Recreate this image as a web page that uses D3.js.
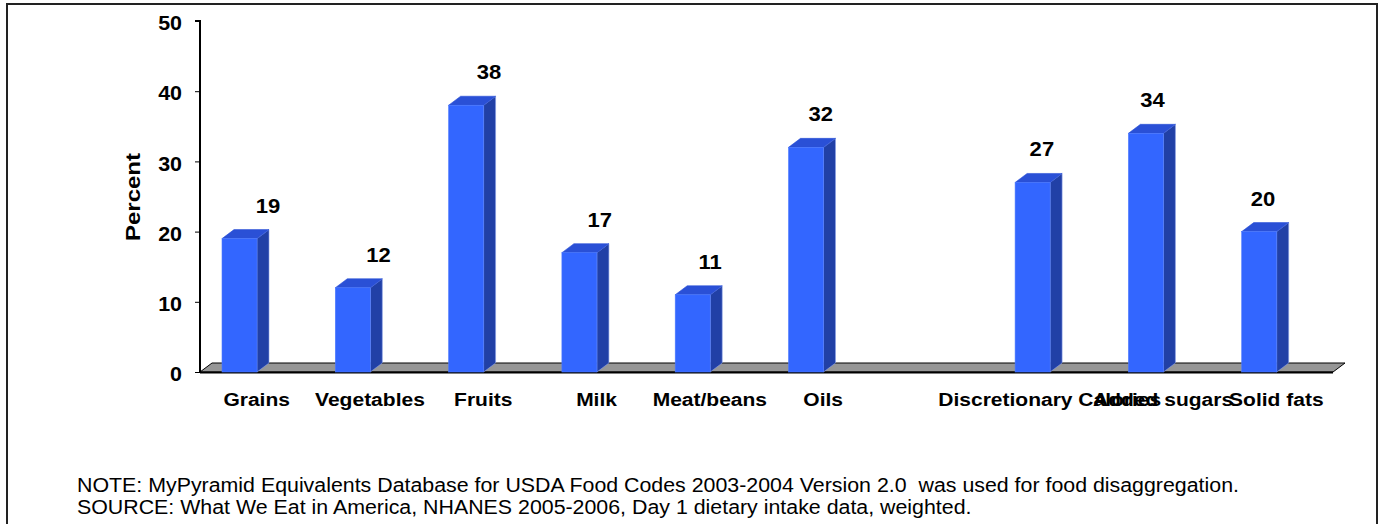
<!DOCTYPE html>
<html><head><meta charset="utf-8">
<script src="https://cdn.jsdelivr.net/npm/d3@7"></script>
<style>
html,body{margin:0;padding:0;background:#fff;}
svg{display:block;font-family:Arial,"Liberation Sans",sans-serif;}
</style></head>
<body><svg id="c" width="1382" height="524"></svg>
<script>
const categories = ["Grains","Vegetables","Fruits","Milk","Meat/beans","Oils","","Discretionary Calories","Added sugars","Solid fats"];
const values = [19,12,38,17,11,32,null,27,34,20];
const yTicks = [0,10,20,30,40,50];
const notes = [
  "NOTE: MyPyramid Equivalents Database for USDA Food Codes 2003-2004 Version 2.0  was used for food disaggregation.",
  "SOURCE: What We Eat in America, NHANES 2005-2006, Day 1 dietary intake data, weighted."
];

const FONT = "Arial,'Liberation Sans',sans-serif";
const svg = d3.select("#c");
const x0 = 200, x1 = 1333, yBase = 372, yTop = 21;
const dx = 12, dy = -9;

function stretch(sel, k){
  sel.each(function(){
    const w = this.getComputedTextLength();
    if (w > 0) d3.select(this).attr("textLength", w*k).attr("lengthAdjust","spacingAndGlyphs");
  });
}

// outer frame
svg.append("rect").attr("x",7).attr("y",4).attr("width",1370).attr("height",530)
  .attr("fill","none").attr("stroke","#222").attr("stroke-width",2);

const y = d3.scaleLinear().domain([0,50]).range([yBase, yTop]);
const keys = categories.map((c,i)=>i);
const xSlot = d3.scaleBand().domain(keys).range([x0,x1]).padding(0);
const xBar = d3.scaleBand().domain(keys).range([x0,x1]).paddingInner(0.691).paddingOuter(0.3455).align(0.281);
const xLab = d3.scaleLinear().domain([0,9]).range([268,1263]);

// floor
svg.append("path")
  .attr("d", d3.line()([[x0,yBase],[x0+dx,yBase+dy],[x1+dx,yBase+dy],[x1,yBase]]) + "Z")
  .attr("fill","#969696").attr("stroke","#000").attr("stroke-width",1);
svg.append("line").attr("x1",x0).attr("x2",x1).attr("y1",yBase+0.5).attr("y2",yBase+0.5)
  .attr("stroke","#000").attr("stroke-width",2);

// y axis
const yAxis = d3.axisLeft(y).tickValues(yTicks).tickSize(5).tickPadding(13);
const gy = svg.append("g").attr("transform",`translate(${x0},0)`).call(yAxis);
gy.select(".domain").attr("stroke","#000").attr("stroke-width",2).attr("d",`M-5,${yTop}H0V${yBase}`);
gy.selectAll(".tick line").attr("stroke","#000").attr("stroke-width",1);
gy.selectAll(".tick text").attr("font-size",19.5).attr("font-weight","bold").attr("fill","#000")
  .attr("font-family",FONT).attr("dy","0.45em").call(stretch,1.1);

// y title
svg.append("text").attr("transform",`translate(140,197) rotate(-90)`)
  .attr("text-anchor","middle").attr("font-size",20.5).attr("font-weight","bold").text("Percent")
  .call(stretch,1.17);

// bars
const data = keys.filter(i=>values[i]!=null);
const bw = xBar.bandwidth();
const g = svg.append("g");
data.forEach(i=>{
  const bx = xBar(i), top = y(values[i]);
  g.append("path").attr("d", d3.line()([[bx+bw,top],[bx+bw+dx,top+dy],[bx+bw+dx,yBase+dy],[bx+bw,yBase]])+"Z")
    .attr("fill","#2140a6").attr("stroke","#8aa0e8").attr("stroke-width",0.6);
  g.append("path").attr("d", d3.line()([[bx,top],[bx+dx,top+dy],[bx+bw+dx,top+dy],[bx+bw,top]])+"Z")
    .attr("fill","#2a50d6").attr("stroke","#2a50d6").attr("stroke-width",0.6);
  g.append("rect").attr("x",bx).attr("y",top).attr("width",bw).attr("height",yBase-top)
    .attr("fill","#3366ff").attr("stroke","#4d7aff").attr("stroke-width",0.6);
  g.append("text").attr("x",xLab(i)).attr("y",top-26).attr("text-anchor","middle")
    .attr("font-size",19.5).attr("font-weight","bold").text(values[i]).call(stretch,1.13);
});

// x axis labels
const xAxis = d3.axisBottom(xSlot).tickSize(0).tickPadding(0).tickFormat(i=>categories[i]);
const gx = svg.append("g").attr("transform",`translate(0,${yBase+34})`).call(xAxis);
gx.select(".domain").remove();
gx.selectAll(".tick text").attr("font-size",17.5).attr("font-weight","bold").attr("fill","#000")
  .attr("font-family",FONT).attr("dy",0).call(stretch,1.2);

// notes
svg.append("g").selectAll("text").data(notes).join("text")
  .attr("x",77).attr("y",(d,i)=>492+i*22).attr("font-size",19.5)
  .style("white-space","pre").text(d=>d).call(stretch,1.095);
</script></body></html>
